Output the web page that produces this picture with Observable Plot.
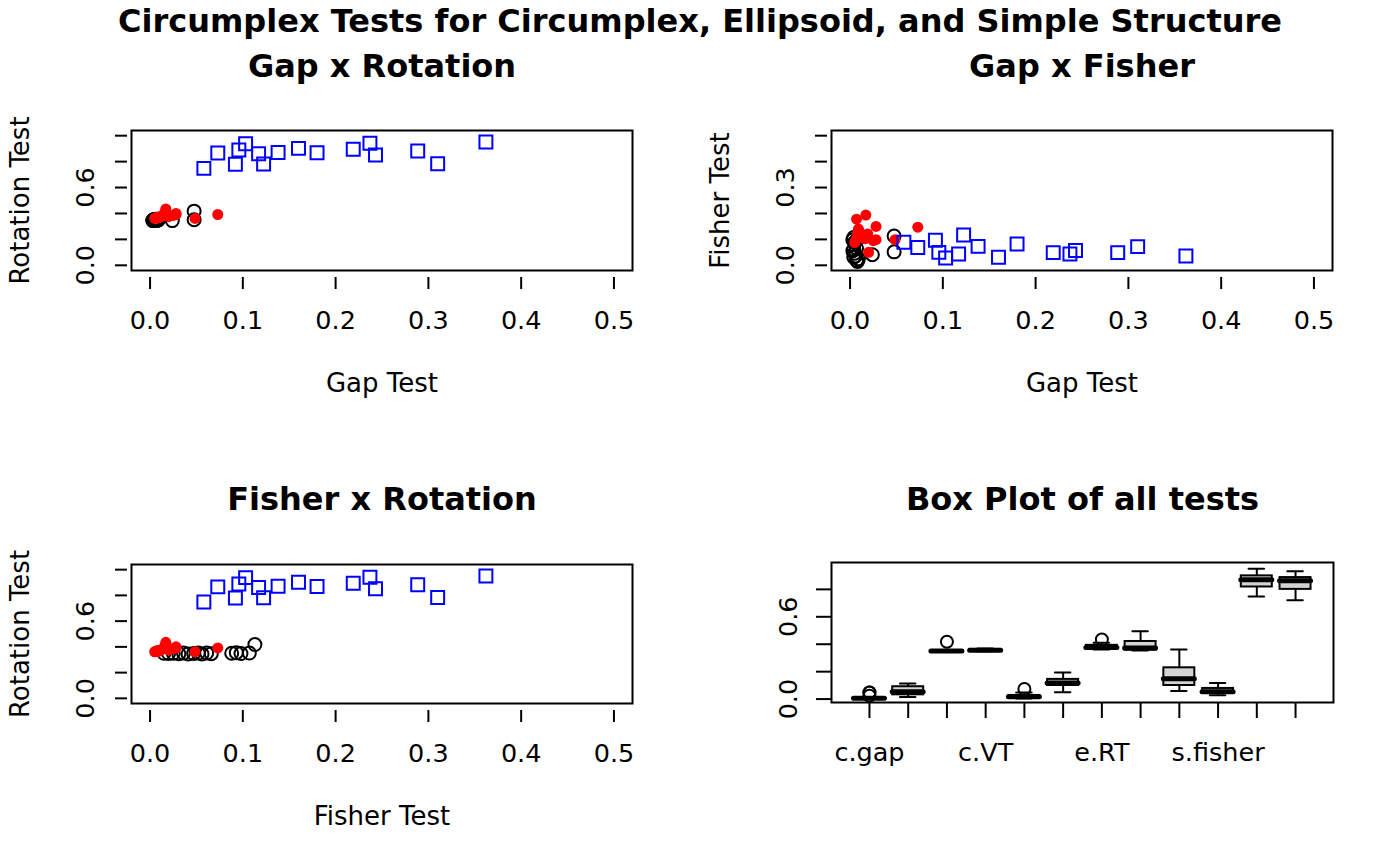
<!DOCTYPE html>
<html>
<head>
<meta charset="utf-8">
<script src="https://cdn.jsdelivr.net/npm/d3@7"></script>
<script src="https://cdn.jsdelivr.net/npm/@observablehq/plot@0.6"></script>
<style>
  body { margin: 0; background: #fff; }
  #root { position: relative; width: 1400px; height: 866px; background: #fff; font-family: "DejaVu Sans", sans-serif; }
  #title { position: absolute; left: 0; top: 0; width: 1400px; text-align: center; font-weight: bold; font-size: 32px; line-height: 42px; color: #000; }
  .panel { position: absolute; }
</style>
</head>
<body>
<div id="root">
  <div id="title">Circumplex Tests for Circumplex, Ellipsoid, and Simple Structure</div>
</div>
<script>
// ---- Data ----
// Circumplex (black open circles)
const cGap    = [0.004, 0.003, 0.006, 0.005, 0.007, 0.004, 0.003, 0.008, 0.005, 0.006, 0.004, 0.009, 0.007, 0.024, 0.0475, 0.0475];
const cFisher = [0.107, 0.098, 0.093, 0.088, 0.066, 0.061, 0.056, 0.015, 0.047, 0.036, 0.031, 0.025, 0.020, 0.041, 0.113, 0.052];
const cRT     = [0.352, 0.348, 0.355, 0.350, 0.347, 0.352, 0.345, 0.350, 0.348, 0.352, 0.346, 0.350, 0.349, 0.345, 0.418, 0.352];
// Ellipsoid (red filled dots)
const eGap    = [0.007, 0.017, 0.009, 0.028, 0.008, 0.019, 0.007, 0.028, 0.020, 0.0485, 0.073, 0.012, 0.016, 0.025, 0.010, 0.005];
const eFisher = [0.178, 0.194, 0.140, 0.150, 0.121, 0.121, 0.102, 0.099, 0.050, 0.099, 0.147, 0.115, 0.102, 0.095, 0.130, 0.088];
const eRT     = [0.365, 0.435, 0.372, 0.400, 0.365, 0.383, 0.370, 0.392, 0.375, 0.362, 0.392, 0.378, 0.410, 0.385, 0.368, 0.362];
// Simple structure (blue open squares)
const sGap    = [0.058, 0.073, 0.092, 0.0957, 0.103, 0.117, 0.1224, 0.138, 0.160, 0.180, 0.219, 0.237, 0.243, 0.2885, 0.310, 0.362];
const sFisher = [0.089, 0.069, 0.0965, 0.050, 0.028, 0.044, 0.117, 0.073, 0.031, 0.082, 0.049, 0.044, 0.057, 0.049, 0.072, 0.036];
const sRT     = [0.748, 0.866, 0.779, 0.889, 0.938, 0.861, 0.781, 0.871, 0.902, 0.869, 0.895, 0.941, 0.851, 0.882, 0.784, 0.951];

// Box plot summaries (whisker low, Q1, median, Q3, whisker high)
const boxNames = ["c.gap","c.fisher","c.RT","c.VT","e.gap","e.fisher","e.RT","e.VT","s.gap","s.fisher","s.RT","s.VT"];
const boxLo  = [0.003, 0.015, 0.345, 0.348, 0.005,  0.050,  0.362,  0.355, 0.058, 0.028,  0.748,  0.720];
const boxQ1  = [0.004, 0.031, 0.348, 0.352, 0.0085, 0.099,  0.3665, 0.356, 0.099, 0.044,  0.8175, 0.800];
const boxMed = [0.006, 0.054, 0.350, 0.356, 0.0165, 0.118,  0.3765, 0.372, 0.149, 0.0535, 0.870,  0.862];
const boxQ3  = [0.0075,0.090, 0.352, 0.362, 0.0265, 0.1435, 0.392,  0.420, 0.228, 0.0775, 0.8985, 0.886];
const boxHi  = [0.009, 0.113, 0.355, 0.368, 0.0485, 0.194,  0.410,  0.495, 0.362, 0.117,  0.951,  0.933];
const outBox = [1, 1, 1, 3, 5, 7];
const outVal = [0.024, 0.0475, 0.0475, 0.418, 0.073, 0.435];

// Axis ticks and labels
const xTicks = [0, 0.1, 0.2, 0.3, 0.4, 0.5];
const rotTicks = [0, 0.2, 0.4, 0.6, 0.8, 1.0];
const rotLabels = [0, 0.6];
const fisherTicks = [0, 0.1, 0.2, 0.3, 0.4, 0.5];
const fisherLabels = [0, 0.3];
const boxYTicks = [0, 0.2, 0.4, 0.6, 0.8];
const boxYLabels = [0, 0.6];

// ---- Build tables ----
const cData = cGap.map((g, i) => ({gap: g, fisher: cFisher[i], rt: cRT[i]}));
const eData = eGap.map((g, i) => ({gap: g, fisher: eFisher[i], rt: eRT[i]}));
const sData = sGap.map((g, i) => ({gap: g, fisher: sFisher[i], rt: sRT[i]}));
const boxData = boxNames.map((n, i) => ({name: n, pos: i + 1, lo: boxLo[i], q1: boxQ1[i], med: boxMed[i], q3: boxQ3[i], hi: boxHi[i]}));
const outData = outBox.map((b, i) => ({pos: b, v: outVal[i]}));

const fmt = d3.format(".1f");
const FONT = "DejaVu Sans";
const LW = 2;
const TICKFS = 25.5, LABFS = 26, TITLEFS = 32;
const T = {textAnchor: "middle", lineAnchor: "middle", fill: "black"};

function scatter({title, xlab, ylab, xKey, yKey, xKeyC, yDomain, yTicks, yLabels, boxTop}) {
  return Plot.plot({
    width: 700, height: 433,
    marginLeft: 131, marginRight: 68, marginTop: boxTop, marginBottom: 163,
    x: {domain: [-0.02, 0.52]},
    y: {domain: yDomain},
    style: {fontFamily: FONT, fontSize: TICKFS + "px", color: "black", background: "transparent", overflow: "visible"},
    marks: [
      Plot.dot(cData, {x: xKeyC || xKey, y: yKey, r: 6.5, stroke: "black", strokeWidth: LW, fill: "none"}),
      Plot.dot(eData, {x: xKey, y: yKey, r: 5.5, fill: "red", stroke: "none"}),
      Plot.dot(sData, {x: xKey, y: yKey, symbol: "square", r: 7.3, stroke: "blue", strokeWidth: LW, fill: "none"}),
      Plot.frame({stroke: "black", strokeWidth: LW}),
      Plot.axisX(xTicks, {tickSize: 12, dy: 7, tickFormat: () => "", strokeWidth: LW, label: null}),
      Plot.axisY(yTicks, {tickSize: 12, dx: -4, tickFormat: () => "", strokeWidth: LW, label: null}),
      Plot.text(xTicks, {...T, x: d => d, frameAnchor: "bottom", dy: 50, text: d => fmt(d), fontSize: TICKFS}),
      Plot.text(yLabels, {...T, y: d => d, frameAnchor: "left", dx: -46, rotate: -90, text: d => fmt(d), fontSize: TICKFS}),
      Plot.text([xlab], {...T, frameAnchor: "bottom", dy: 113, text: d => d, fontSize: LABFS}),
      Plot.text([ylab], {...T, frameAnchor: "left", dx: -111, rotate: -90, text: d => d, fontSize: LABFS}),
      Plot.text([title], {...T, frameAnchor: "top", dy: 66 - boxTop, text: d => d, fontSize: TITLEFS, fontWeight: "bold"})
    ]
  });
}

function boxPanel() {
  return Plot.plot({
    width: 700, height: 433,
    marginLeft: 131, marginRight: 67, marginTop: 129, marginBottom: 164,
    x: {domain: [0.02, 12.98]},
    y: {domain: [-0.025, 0.996]},
    style: {fontFamily: FONT, fontSize: TICKFS + "px", color: "black", background: "transparent", overflow: "visible"},
    marks: [
      Plot.ruleX(boxData, {x: "pos", y1: "lo", y2: "q1", stroke: "black", strokeWidth: LW}),
      Plot.ruleX(boxData, {x: "pos", y1: "q3", y2: "hi", stroke: "black", strokeWidth: LW}),
      Plot.ruleY(boxData, {y: "lo", x1: d => d.pos - 0.2, x2: d => d.pos + 0.2, stroke: "black", strokeWidth: LW, strokeLinecap: "round"}),
      Plot.ruleY(boxData, {y: "hi", x1: d => d.pos - 0.2, x2: d => d.pos + 0.2, stroke: "black", strokeWidth: LW, strokeLinecap: "round"}),
      Plot.rect(boxData, {x1: d => d.pos - 0.4, x2: d => d.pos + 0.4, y1: "q1", y2: "q3", fill: "#d3d3d3", stroke: "black", strokeWidth: LW}),
      Plot.ruleY(boxData, {y: "med", x1: d => d.pos - 0.4, x2: d => d.pos + 0.4, stroke: "black", strokeWidth: 5, strokeLinecap: "round"}),
      Plot.dot(outData, {x: "pos", y: "v", r: 6, stroke: "black", strokeWidth: LW, fill: "none"}),
      Plot.frame({stroke: "black", strokeWidth: LW}),
      Plot.axisX(d3.range(1, 13), {tickSize: 15, dy: 1, tickFormat: () => "", strokeWidth: LW, label: null}),
      Plot.axisY(boxYTicks, {tickSize: 15, dx: 0, tickFormat: () => "", strokeWidth: LW, label: null}),
      Plot.text(boxData.filter((d, i) => i % 3 === 0), {...T, x: "pos", frameAnchor: "bottom", dy: 50, text: "name", fontSize: TICKFS}),
      Plot.text(boxYLabels, {...T, y: d => d, frameAnchor: "left", dx: -43, rotate: -90, text: d => fmt(d), fontSize: TICKFS}),
      Plot.text(["Box Plot of all tests"], {...T, frameAnchor: "top", dy: -63, text: d => d, fontSize: TITLEFS, fontWeight: "bold"})
    ]
  });
}

const root = document.getElementById("root");
function place(node, left, top) {
  const d = document.createElement("div");
  d.className = "panel";
  d.style.left = left + "px";
  d.style.top = top + "px";
  d.appendChild(node);
  root.appendChild(d);
}

place(scatter({title: "Gap x Rotation", xlab: "Gap Test", ylab: "Rotation Test", xKey: "gap", yKey: "rt",
  yDomain: [-0.04, 1.04], yTicks: rotTicks, yLabels: rotLabels, boxTop: 130}), 0, 0);
place(scatter({title: "Gap x Fisher", xlab: "Gap Test", ylab: "Fisher Test", xKey: "gap", yKey: "fisher",
  yDomain: [-0.02, 0.52], yTicks: fisherTicks, yLabels: fisherLabels, boxTop: 130}), 700, 0);
place(scatter({title: "Fisher x Rotation", xlab: "Fisher Test", ylab: "Rotation Test", xKey: "gap", xKeyC: "fisher", yKey: "rt",
  yDomain: [-0.04, 1.04], yTicks: rotTicks, yLabels: rotLabels, boxTop: 131}), 0, 433);
place(boxPanel(), 700, 433);
</script>
</body>
</html>
